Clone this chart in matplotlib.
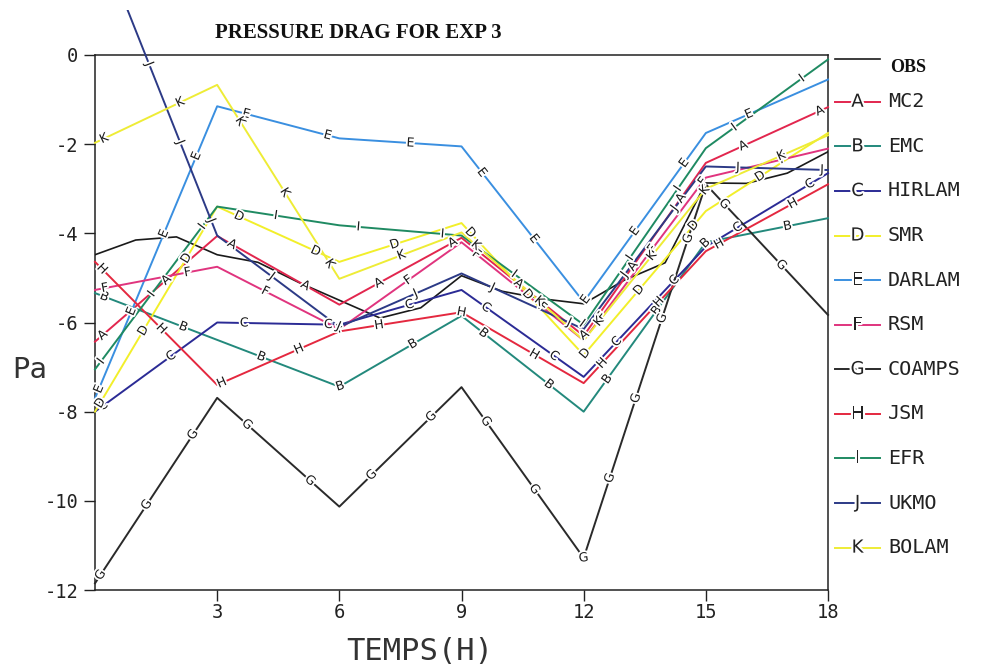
import numpy as np
import matplotlib
matplotlib.use("Agg")
import matplotlib.pyplot as plt
from matplotlib.patches import Rectangle
from matplotlib.transforms import blended_transform_factory
import matplotlib.patheffects as pe

# ---- data -------------------------------------------------------------
hours = [0, 3, 6, 9, 12, 15, 18]
obs_hours = list(range(19))
obs = [-4.48, -4.15, -4.08, -4.48, -4.65, -5.1, -5.5, -5.9, -5.67, -4.95,
       -5.3, -5.47, -5.58, -5.05, -4.66, -2.87, -2.88, -2.65, -2.17]

mc2 = [-6.43, -4.06, -5.6, -4.1, -6.3, -2.42, -1.17]      # A
emc = [-5.34, -6.39, -7.44, -5.85, -8.0, -4.2, -3.66]     # B
hirlam = [-8.0, -6.0, -6.05, -5.27, -7.22, -4.3, -2.65]   # C
smr = [-8.0, -3.4, -4.64, -3.77, -6.73, -3.5, -1.75]      # D
darlam = [-7.7, -1.15, -1.87, -2.05, -5.54, -1.75, -0.55] # E
rsm = [-5.27, -4.75, -6.15, -4.2, -6.4, -2.75, -2.1]      # F
coamps = [-11.85, -7.69, -10.13, -7.45, -11.28, -2.9, -5.83]  # G
jsm = [-4.64, -7.4, -6.2, -5.77, -7.36, -4.4, -2.9]       # H
efr = [-7.05, -3.4, -3.82, -4.05, -6.05, -2.09, -0.1]     # I
ukmo = [2.85, -4.05, -6.1, -4.9, -6.15, -2.5, -2.58]      # J
bolam = [-1.97, -0.67, -5.02, -3.98, -6.4, -3.0, -1.8]    # K

model_names = ["MC2", "EMC", "HIRLAM", "SMR", "DARLAM", "RSM",
               "COAMPS", "JSM", "EFR", "UKMO", "BOLAM"]
model_letters = list("ABCDEFGHIJK")
model_values = [mc2, emc, hirlam, smr, darlam, rsm, coamps, jsm, efr, ukmo, bolam]
model_colors = ["#e2264e", "#23897c", "#2b2b95", "#f2ef2a", "#3a8fe0",
                "#e0347e", "#2a2a2a", "#e4283f", "#1f8a62", "#2c3a86", "#eeec36"]

xticks = [3, 6, 9, 12, 15, 18]
xtick_labels = ["3", "6", "9", "12", "15", "18"]
yticks = [0, -2, -4, -6, -8, -10, -12]
ytick_labels = ["0", "-2", "-4", "-6", "-8", "-10", "-12"]

title = "PRESSURE DRAG FOR EXP 3"
xlabel = "TEMPS(H)"
ylabel = "Pa"

# ---- figure -----------------------------------------------------------
W, H = 985, 669
fig = plt.figure(figsize=(W / 100, H / 100), dpi=100)
ax = fig.add_axes([95 / W, 1 - 590 / H, (828 - 95) / W, (590 - 55) / H])
ax.set_xlim(0, 18)
ax.set_ylim(-12, 0)

mono = "DejaVu Sans Mono"
ax.set_xticks(xticks)
ax.set_xticklabels(xtick_labels, family=mono, fontsize=13.5, color="#222")
ax.set_yticks(yticks)
ax.set_yticklabels(ytick_labels, family=mono, fontsize=13.5, color="#222")
ax.tick_params(axis="y", direction="out", length=8, width=1.0, color="#222", pad=4)
ax.tick_params(axis="x", direction="out", length=8, width=1.0, color="#222", pad=1)
for sp in ax.spines.values():
    sp.set_linewidth(1.1)
    sp.set_color("#222")

clip = Rectangle((-0.5, -12.5), 19, 13.5, transform=ax.transData)


def letters_along(xs, ys, letter, spacing=84, phase=10, top=0.0):
    """Put the series letter at regular distances along its polyline."""
    P = ax.transData.transform(np.column_stack([xs, ys]))
    dense = []
    for (x0, y0), (x1, y1) in zip(P[:-1], P[1:]):
        n = max(int(np.hypot(x1 - x0, y1 - y0)), 1)
        t = np.linspace(0, 1, n, endpoint=False)
        dense.append(np.column_stack([x0 + (x1 - x0) * t, y0 + (y1 - y0) * t]))
    dense.append(P[-1:])
    D = np.vstack(dense)
    ytop = ax.transData.transform((0, top))[1]
    D = D[D[:, 1] <= ytop + 0.5]
    d = np.concatenate([[0], np.cumsum(np.hypot(*np.diff(D, axis=0).T))])
    inv = ax.transData.inverted()
    for s in np.arange(phase, d[-1] - 4, spacing):
        i = int(np.clip(np.searchsorted(d, s), 1, len(D) - 1))
        dx, dy = D[min(i + 2, len(D) - 1)] - D[max(i - 2, 0)]
        ang = np.degrees(np.arctan2(dy, dx))
        if ang > 90:
            ang -= 180
        if ang < -90:
            ang += 180
        xd, yd = inv.transform(D[i])
        ax.text(xd, yd, letter, rotation=ang, rotation_mode="anchor",
                ha="center", va="center", fontsize=9, family="DejaVu Sans",
                color="#1a1a1a", zorder=6,
                path_effects=[pe.withStroke(linewidth=2.6, foreground="white")])


# observed curve
ax.plot(obs_hours, obs, color="#1a1a1a", lw=1.2, zorder=3, clip_path=clip)

for vals, let, col in zip(model_values, model_letters, model_colors):
    ln, = ax.plot(hours, vals, color=col, lw=1.4, zorder=3)
    ln.set_clip_path(clip)
    letters_along(hours, vals, let)

# ---- legend at the right ---------------------------------------------
tr = blended_transform_factory(ax.transAxes, ax.transData)
x0, x1, xl = (835 - 95) / 733, (880 - 95) / 733, (888 - 95) / 733
ax.plot([x0, x1], [-0.09, -0.09], color="#1a1a1a", lw=1.2, transform=tr, clip_on=False)
ax.text((890 - 95) / 733, -0.27, "OBS", transform=tr, ha="left", va="center",
        family="Liberation Serif", weight="bold", fontsize=13, color="#111")
for i, (name, let, col) in enumerate(zip(model_names, model_letters, model_colors)):
    yy = -(i + 1) - 0.05
    ax.plot([x0, x1], [yy, yy], color=col, lw=1.4, transform=tr, clip_on=False)
    ax.text((x0 + x1) / 2, yy, let, transform=tr, ha="center", va="center",
            family="DejaVu Sans", fontsize=13, color="#222", zorder=6,
            path_effects=[pe.withStroke(linewidth=3, foreground="white")])
    ax.text(xl, yy, name, transform=tr, ha="left", va="center",
            family=mono, fontsize=14.5, color="#222")

# ---- titles -----------------------------------------------------------
fig.text(215 / W, 1 - 33 / H, title, ha="left", va="center",
         family="Liberation Serif", weight="bold", fontsize=15, color="#111")
fig.text(12 / W, 1 - 370 / H, ylabel, ha="left", va="center",
         family=mono, fontsize=21, color="#333")
fig.text(420 / W, 1 - 651 / H, xlabel, ha="center", va="center",
         family=mono, fontsize=22, color="#333")

fig.savefig("out.png", dpi=100)
